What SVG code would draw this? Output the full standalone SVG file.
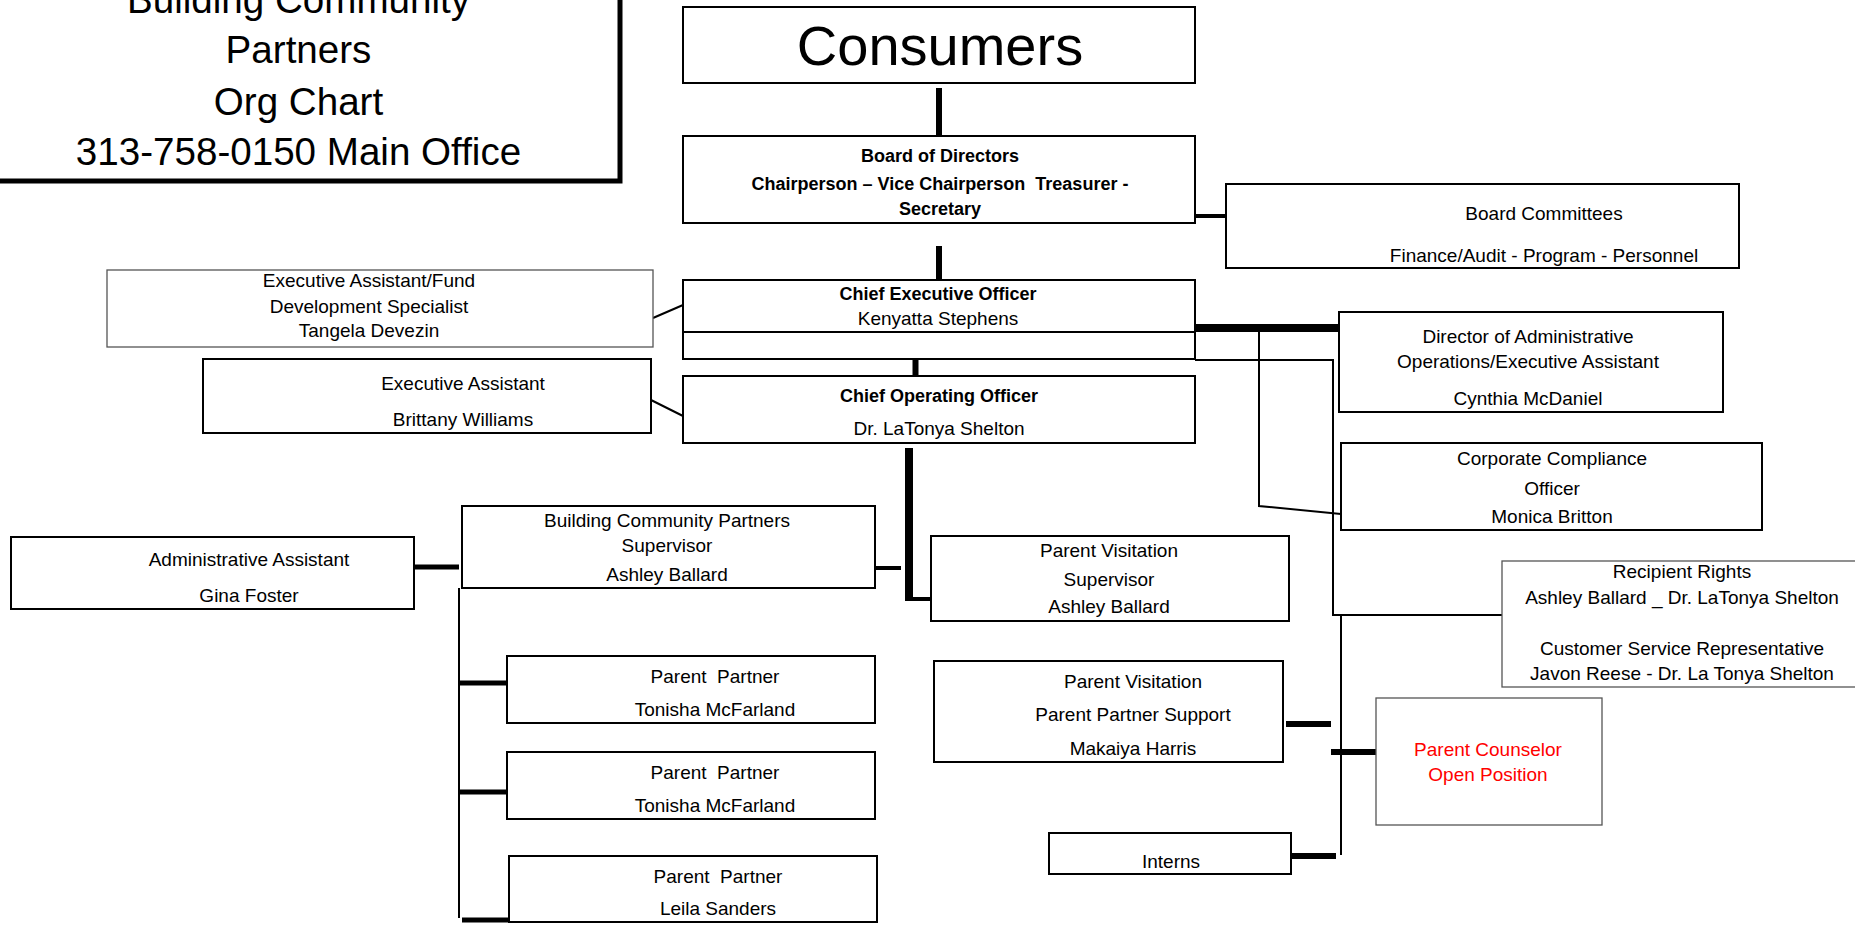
<svg xmlns="http://www.w3.org/2000/svg" width="1855" height="930" viewBox="0 0 1855 930">
<style>
.box{fill:#fff;stroke:#000;stroke-width:2}
.thin{fill:#fff;stroke:#555;stroke-width:1.3}
text{font-family:"Liberation Sans",Arial,sans-serif;font-size:19px;fill:#000;text-anchor:middle;white-space:pre}
.b{font-weight:bold;font-size:18px}
.red{fill:#f00}
.title{font-size:38.6px}
.cons{font-size:56px}
#connectors line,#connectors path{stroke:#000;fill:none}
.k8{stroke-width:8}
.k6{stroke-width:6}
.k5{stroke-width:5}
.k4{stroke-width:4}
.k2{stroke-width:2}
</style>
<rect x="0" y="0" width="1855" height="930" fill="#fff"/>

<g id="connectors">
  <line class="k6" x1="939" y1="88" x2="939" y2="135"/>
  <line class="k6" x1="939" y1="246" x2="939" y2="283"/>
  <line class="k4" x1="1195" y1="216" x2="1228" y2="216"/>
  <line class="k2" x1="653" y1="318" x2="683" y2="305"/>
  <line class="k2" x1="651" y1="400" x2="683" y2="416"/>
  <line class="k6" x1="915.5" y1="359" x2="915.5" y2="376"/>
  <line class="k8" x1="1195" y1="328" x2="1339" y2="328"/>
  <path class="k2" d="M1259 328 V506 L1341 514"/>
  <path class="k2" d="M1195 360 H1333 V615 H1502"/>
  <line class="k2" x1="1341" y1="615" x2="1341" y2="855"/>
  <line class="k6" x1="1331" y1="752" x2="1376" y2="752"/>
  <line class="k6" x1="1286" y1="724" x2="1331" y2="724"/>
  <line class="k6" x1="1291" y1="856" x2="1336" y2="856"/>
  <line class="k8" x1="909" y1="448" x2="909" y2="601"/>
  <line class="k4" x1="905" y1="599" x2="934" y2="599"/>
  <line class="k4" x1="875" y1="568" x2="901" y2="568"/>
  <line class="k5" x1="414" y1="567" x2="459" y2="567"/>
  <line class="k2" x1="459" y1="588" x2="459" y2="918"/>
  <line class="k5" x1="459" y1="683" x2="507" y2="683"/>
  <line class="k5" x1="459" y1="792" x2="507" y2="792"/>
  <line class="k5" x1="462" y1="920" x2="509" y2="920"/>
</g>

<g id="title">
  <rect x="-10" y="-10" width="630" height="191" fill="#fff" stroke="#000" stroke-width="5"/>
  <text class="title" x="298.5" y="13">Building Community</text>
  <text class="title" x="298.5" y="63">Partners</text>
  <text class="title" x="298.5" y="115">Org Chart</text>
  <text class="title" x="298.5" y="165">313-758-0150 Main Office</text>
</g>

<g id="consumers">
  <rect class="box" x="683" y="7" width="512" height="76"/>
  <text class="cons" x="940" y="65">Consumers</text>
</g>

<g id="board">
  <rect class="box" x="683" y="136" width="512" height="87"/>
  <text class="b" x="940" y="162">Board of Directors</text>
  <text class="b" x="940" y="190" xml:space="preserve">Chairperson – Vice Chairperson  Treasurer -</text>
  <text class="b" x="940" y="215">Secretary</text>
</g>

<g id="committees">
  <rect class="box" x="1226" y="184" width="513" height="84"/>
  <text x="1544" y="220">Board Committees</text>
  <text x="1544" y="262">Finance/Audit - Program - Personnel</text>
</g>

<g id="ceo">
  <rect class="box" x="683" y="280" width="512" height="79"/>
  <line x1="683" y1="332" x2="1195" y2="332" stroke="#000" stroke-width="2"/>
  <text class="b" x="938" y="300">Chief Executive Officer</text>
  <text x="938" y="325">Kenyatta Stephens</text>
</g>

<g id="exec-fund">
  <rect class="thin" x="107" y="270" width="546" height="77"/>
  <text x="369" y="287">Executive Assistant/Fund</text>
  <text x="369" y="313">Development Specialist</text>
  <text x="369" y="337">Tangela Devezin</text>
</g>

<g id="exec-asst">
  <rect class="box" x="203" y="359" width="448" height="74"/>
  <text x="463" y="390">Executive Assistant</text>
  <text x="463" y="426">Brittany Williams</text>
</g>

<g id="coo">
  <rect class="box" x="683" y="376" width="512" height="67"/>
  <text class="b" x="939" y="402">Chief Operating Officer</text>
  <text x="939" y="435">Dr. LaTonya Shelton</text>
</g>

<g id="director">
  <rect class="box" x="1339" y="312" width="384" height="100"/>
  <text x="1528" y="343">Director of Administrative</text>
  <text x="1528" y="368">Operations/Executive Assistant</text>
  <text x="1528" y="405">Cynthia McDaniel</text>
</g>

<g id="compliance">
  <rect class="box" x="1341" y="443" width="421" height="87"/>
  <text x="1552" y="465">Corporate Compliance</text>
  <text x="1552" y="495">Officer</text>
  <text x="1552" y="523">Monica Britton</text>
</g>

<g id="recipient">
  <rect class="thin" x="1502" y="561" width="370" height="126"/>
  <text x="1682" y="578">Recipient Rights</text>
  <text x="1682" y="604">Ashley Ballard _ Dr. LaTonya Shelton</text>
  <text x="1682" y="655">Customer Service Representative</text>
  <text x="1682" y="680">Javon Reese - Dr. La Tonya Shelton</text>
</g>

<g id="admin-asst">
  <rect class="box" x="11" y="537" width="403" height="72"/>
  <text x="249" y="566">Administrative Assistant</text>
  <text x="249" y="602">Gina Foster</text>
</g>

<g id="bcp-supervisor">
  <rect class="box" x="462" y="506" width="413" height="82"/>
  <text x="667" y="527">Building Community Partners</text>
  <text x="667" y="552">Supervisor</text>
  <text x="667" y="581">Ashley Ballard</text>
</g>

<g id="pv-supervisor">
  <rect class="box" x="931" y="536" width="358" height="85"/>
  <text x="1109" y="557">Parent Visitation</text>
  <text x="1109" y="586">Supervisor</text>
  <text x="1109" y="613">Ashley Ballard</text>
</g>

<g id="pv-support">
  <rect class="box" x="934" y="661" width="349" height="101"/>
  <text x="1133" y="688">Parent Visitation</text>
  <text x="1133" y="721">Parent Partner Support</text>
  <text x="1133" y="755">Makaiya Harris</text>
</g>

<g id="parent-counselor">
  <rect class="thin" x="1376" y="698" width="226" height="127"/>
  <text class="red" x="1488" y="756">Parent Counselor</text>
  <text class="red" x="1488" y="781">Open Position</text>
</g>

<g id="interns">
  <rect class="box" x="1049" y="833" width="242" height="41"/>
  <text x="1171" y="868">Interns</text>
</g>

<g id="pp1">
  <rect class="box" x="507" y="656" width="368" height="67"/>
  <text x="715" y="683" xml:space="preserve">Parent  Partner</text>
  <text x="715" y="716">Tonisha McFarland</text>
</g>

<g id="pp2">
  <rect class="box" x="507" y="752" width="368" height="67"/>
  <text x="715" y="779" xml:space="preserve">Parent  Partner</text>
  <text x="715" y="812">Tonisha McFarland</text>
</g>

<g id="pp3">
  <rect class="box" x="509" y="856" width="368" height="66"/>
  <text x="718" y="883" xml:space="preserve">Parent  Partner</text>
  <text x="718" y="915">Leila Sanders</text>
</g>
</svg>
